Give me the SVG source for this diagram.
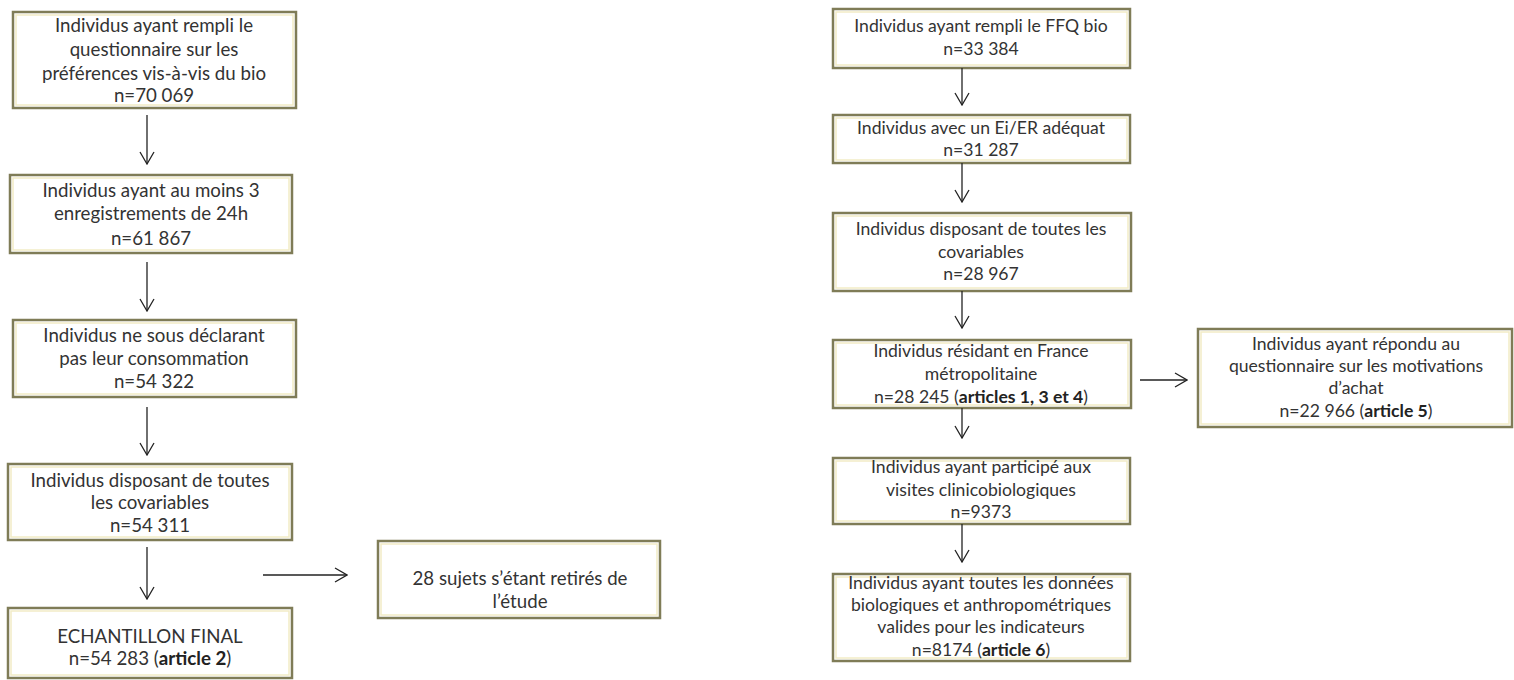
<svg xmlns="http://www.w3.org/2000/svg" width="1514" height="680" viewBox="0 0 1514 680">
  <style>
    .box { fill: #ffffff; stroke: #7f7c57; stroke-width: 2.5; }
    .glow { fill: none; stroke: #f2ecc6; stroke-width: 1.5; }
    .t { font-family: Lato, "Liberation Sans", sans-serif; font-size: 18.7px; fill: #333333; text-anchor: middle; }
    .r { font-size: 17.6px; }
    .b { font-weight: bold; fill: #222222; }
    .link { fill: none; stroke: #222222; stroke-width: 1.3; }
  </style>
  <defs>
    <marker id="arrow" viewBox="0 0 14 16" refX="13" refY="8" markerWidth="14" markerHeight="16" markerUnits="userSpaceOnUse" orient="auto">
      <polyline points="1,1 13,8 1,15" fill="none" stroke="#222222" stroke-width="1.3"/>
    </marker>
  </defs>

  <rect width="1514" height="680" fill="#ffffff"/>

  <!-- left flow -->
  <g id="n-bio-pref">
    <rect class="box" x="13" y="12" width="283" height="96"/>
    <rect class="glow" x="16" y="15" width="277" height="90"/>
    <text class="t" x="154" y="32">Individus ayant rempli le</text>
    <text class="t" x="154" y="56">questionnaire sur les</text>
    <text class="t" x="154" y="80">préférences vis-à-vis du bio</text>
    <text class="t" x="154" y="102">n=70 069</text>
  </g>
  <g id="n-24h">
    <rect class="box" x="10" y="175" width="282" height="78"/>
    <rect class="glow" x="13" y="178" width="276" height="72"/>
    <text class="t" x="151" y="197">Individus ayant au moins 3</text>
    <text class="t" x="151" y="220">enregistrements de 24h</text>
    <text class="t" x="151" y="245">n=61 867</text>
  </g>
  <g id="n-sous-decl">
    <rect class="box" x="13" y="320" width="283" height="77"/>
    <rect class="glow" x="16" y="323" width="277" height="71"/>
    <text class="t" x="154" y="342">Individus ne sous déclarant</text>
    <text class="t" x="154" y="365">pas leur consommation</text>
    <text class="t" x="154" y="388">n=54 322</text>
  </g>
  <g id="n-covar-left">
    <rect class="box" x="8" y="464" width="284" height="76"/>
    <rect class="glow" x="11" y="467" width="278" height="70"/>
    <text class="t" x="150" y="487">Individus disposant de toutes</text>
    <text class="t" x="150" y="509">les covariables</text>
    <text class="t" x="150" y="532">n=54 311</text>
  </g>
  <g id="n-final">
    <rect class="box" x="8" y="608" width="284" height="70"/>
    <rect class="glow" x="11" y="611" width="278" height="64"/>
    <text class="t" x="150" y="643">ECHANTILLON FINAL</text>
    <text class="t" x="150" y="665">n=54 283 (<tspan class="b">article 2</tspan>)</text>
  </g>
  <g id="n-retires">
    <rect class="box" x="378" y="541" width="282" height="77"/>
    <rect class="glow" x="381" y="544" width="276" height="71"/>
    <text class="t" x="520" y="585">28 sujets s’étant retirés de</text>
    <text class="t" x="520" y="608">l’étude</text>
  </g>

  <!-- right flow -->
  <g id="n-ffq">
    <rect class="box" x="833" y="9" width="297" height="59"/>
    <rect class="glow" x="836" y="12" width="291" height="53"/>
    <text class="t r" x="981" y="32">Individus ayant rempli le FFQ bio</text>
    <text class="t r" x="981" y="55">n=33 384</text>
  </g>
  <g id="n-eier">
    <rect class="box" x="833" y="115" width="297" height="48"/>
    <rect class="glow" x="836" y="118" width="291" height="42"/>
    <text class="t r" x="981" y="134">Individus avec un Ei/ER adéquat</text>
    <text class="t r" x="981" y="156">n=31 287</text>
  </g>
  <g id="n-covar-right">
    <rect class="box" x="833" y="213" width="298" height="78"/>
    <rect class="glow" x="836" y="216" width="292" height="72"/>
    <text class="t r" x="981" y="235">Individus disposant de toutes les</text>
    <text class="t r" x="981" y="258">covariables</text>
    <text class="t r" x="981" y="280">n=28 967</text>
  </g>
  <g id="n-metropole">
    <rect class="box" x="833" y="340" width="298" height="68"/>
    <rect class="glow" x="836" y="343" width="292" height="62"/>
    <text class="t r" x="981" y="357">Individus résidant en France</text>
    <text class="t r" x="981" y="380">métropolitaine</text>
    <text class="t r" x="981" y="403">n=28 245 (<tspan class="b">articles 1, 3 et 4</tspan>)</text>
  </g>
  <g id="n-motivations">
    <rect class="box" x="1198" y="329" width="314" height="98"/>
    <rect class="glow" x="1201" y="332" width="308" height="92"/>
    <text class="t r" x="1356" y="350">Individus ayant répondu au</text>
    <text class="t r" x="1356" y="372">questionnaire sur les motivations</text>
    <text class="t r" x="1356" y="394">d’achat</text>
    <text class="t r" x="1356" y="417">n=22 966 (<tspan class="b">article 5</tspan>)</text>
  </g>
  <g id="n-clinico">
    <rect class="box" x="833" y="458" width="297" height="66"/>
    <rect class="glow" x="836" y="461" width="291" height="60"/>
    <text class="t r" x="981" y="473">Individus ayant participé aux</text>
    <text class="t r" x="981" y="496">visites clinicobiologiques</text>
    <text class="t r" x="981" y="518">n=9373</text>
  </g>
  <g id="n-biologie">
    <rect class="box" x="833" y="574" width="297" height="87"/>
    <rect class="glow" x="836" y="577" width="291" height="81"/>
    <text class="t r" x="981" y="589">Individus ayant toutes les données</text>
    <text class="t r" x="981" y="611">biologiques et anthropométriques</text>
    <text class="t r" x="981" y="633">valides pour les indicateurs</text>
    <text class="t r" x="981" y="656">n=8174 (<tspan class="b">article 6</tspan>)</text>
  </g>

  <!-- connectors -->
  <g id="connectors">
    <line class="link" x1="147" y1="115" x2="147" y2="164" marker-end="url(#arrow)"/>
    <line class="link" x1="147" y1="262" x2="147" y2="311" marker-end="url(#arrow)"/>
    <line class="link" x1="147" y1="407" x2="147" y2="455" marker-end="url(#arrow)"/>
    <line class="link" x1="147" y1="547" x2="147" y2="599" marker-end="url(#arrow)"/>
    <line class="link" x1="263" y1="575" x2="347" y2="575" marker-end="url(#arrow)"/>

    <line class="link" x1="962" y1="68" x2="962" y2="105" marker-end="url(#arrow)"/>
    <line class="link" x1="962" y1="163" x2="962" y2="202" marker-end="url(#arrow)"/>
    <line class="link" x1="962" y1="291" x2="962" y2="328" marker-end="url(#arrow)"/>
    <line class="link" x1="962" y1="408" x2="962" y2="438" marker-end="url(#arrow)"/>
    <line class="link" x1="962" y1="524" x2="962" y2="562" marker-end="url(#arrow)"/>
    <line class="link" x1="1140" y1="380" x2="1187" y2="380" marker-end="url(#arrow)"/>
  </g>
</svg>
